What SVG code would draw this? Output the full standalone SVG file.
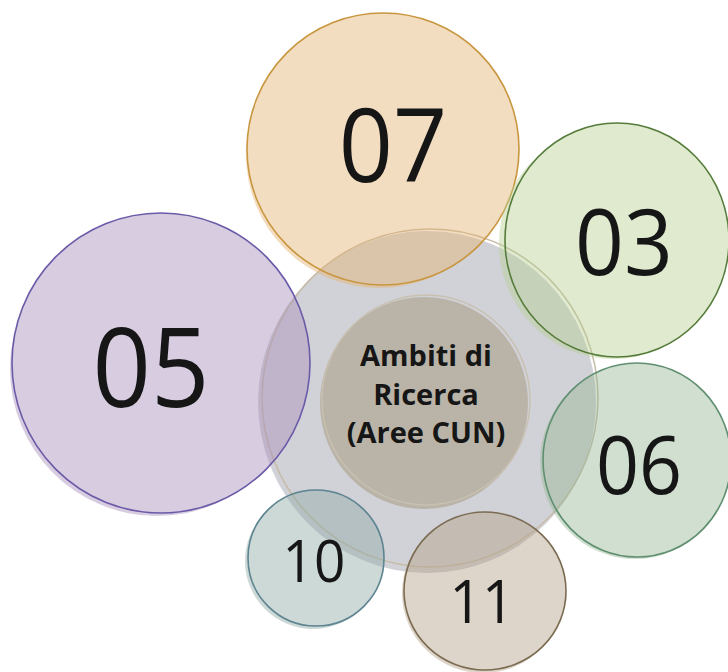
<svg xmlns="http://www.w3.org/2000/svg" width="728" height="672" viewBox="0 0 728 672">
  <style>
    .num { font-family: "Open Sans", "Noto Sans", sans-serif; fill: #161616; text-anchor: middle; }
    .core { font-family: "Open Sans", "Noto Sans", sans-serif; font-weight: 700; fill: #161616; text-anchor: middle; font-size: 29px; }
    .blob { fill-opacity: 0.45; fill-rule: nonzero; }
    .rim { fill: none; stroke-width: 1.6; }
  </style>
  <rect width="728" height="672" fill="#ffffff"/>

  <!-- central hub -->
  <g id="hub">
    <ellipse cx="427" cy="402" rx="169" ry="171" fill="#d1d1d8"/>
    <ellipse cx="430" cy="398" rx="168" ry="169" fill="none" stroke="#c6bba6" stroke-width="1.5"/>
    <ellipse cx="424" cy="403" rx="104" ry="106" fill="#bab4a8"/>
    <ellipse cx="426" cy="400" rx="104" ry="105" fill="none" stroke="#c8c0b0" stroke-width="1.5"/>
    <text class="core" x="426" y="366">Ambiti di</text>
    <text class="core" x="426" y="405">Ricerca</text>
    <text class="core" x="426" y="443">(Aree CUN)</text>
  </g>

  <!-- area 07: hand-drawn look = wash slightly off the outline -->
  <g id="area-07">
    <path class="blob" fill="#e5b474" d="M247,149 a136,136 0 1,0 272,0 a136,136 0 1,0 -272,0 Z M246,155 a133,133 0 1,0 266,0 a133,133 0 1,0 -266,0 Z"/>
    <ellipse class="rim" cx="383" cy="149" rx="136" ry="136" stroke="#c8963f"/>
    <text class="num" font-size="102" transform="translate(393 182) scale(0.93 1)">07</text>
  </g>

  <!-- area 05 -->
  <g id="area-05">
    <path class="blob" fill="#a990bb" d="M12,363 a149,150 0 1,0 298,0 a149,150 0 1,0 -298,0 Z M10,369 a147,147 0 1,0 294,0 a147,147 0 1,0 -294,0 Z"/>
    <ellipse class="rim" cx="161" cy="363" rx="149" ry="150" stroke="#6a5aa8"/>
    <text class="num" font-size="110" transform="translate(151 407) scale(0.93 1)">05</text>
  </g>

  <!-- area 03 -->
  <g id="area-03">
    <path class="blob" fill="#b8d195" d="M499,243 a114,116 0 1,0 228,0 a114,116 0 1,0 -228,0 Z M505,240 a112,117 0 1,0 224,0 a112,117 0 1,0 -224,0 Z"/>
    <ellipse class="rim" cx="617" cy="240" rx="112" ry="117" stroke="#567c3b"/>
    <text class="num" font-size="92" transform="translate(624 275) scale(0.93 1)">03</text>
  </g>

  <!-- area 06 -->
  <g id="area-06">
    <path class="blob" fill="#97b895" d="M540,462 a95,97 0 1,0 190,0 a95,97 0 1,0 -190,0 Z M543,460 a94,97 0 1,0 188,0 a94,97 0 1,0 -188,0 Z"/>
    <ellipse class="rim" cx="637" cy="460" rx="94" ry="97" stroke="#5f8f70"/>
    <text class="num" font-size="81" transform="translate(639 494) scale(0.93 1)">06</text>
  </g>

  <!-- area 10 -->
  <g id="area-10">
    <path class="blob" fill="#90aba7" d="M245,561 a68,68 0 1,0 136,0 a68,68 0 1,0 -136,0 Z M248,558 a68,68 0 1,0 136,0 a68,68 0 1,0 -136,0 Z"/>
    <ellipse class="rim" cx="316" cy="558" rx="68" ry="68" stroke="#5d8490"/>
    <text class="num" font-size="59" transform="translate(314 582) scale(0.93 1)">10</text>
  </g>

  <!-- area 11 -->
  <g id="area-11">
    <path class="blob" fill="#b4a288" d="M402,593 a81,80 0 1,0 162,0 a81,80 0 1,0 -162,0 Z M404,591 a81,79 0 1,0 162,0 a81,79 0 1,0 -162,0 Z"/>
    <ellipse class="rim" cx="485" cy="591" rx="81" ry="79" stroke="#7b6b52"/>
    <text class="num" font-size="61" transform="translate(482 623) scale(0.93 1)">11</text>
  </g>
</svg>
